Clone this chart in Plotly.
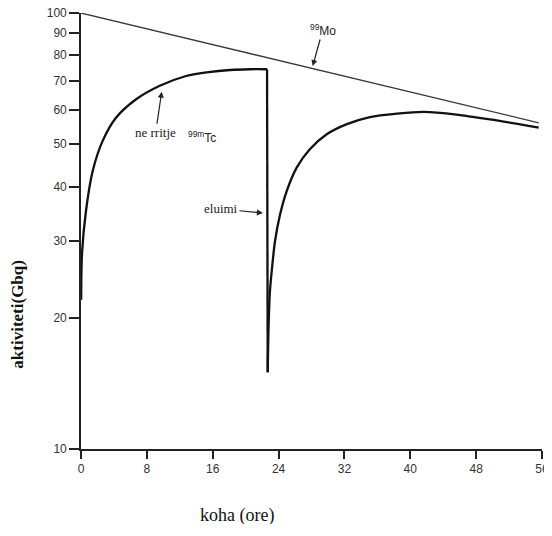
import plotly.graph_objects as go

# Mo-99 parent activity (GBq) vs time (h)
mo_t = [0.0, 55.6]
mo_v = [100.0, 56.0]

# Tc-99m build-up before elution
rise1_t = [0.02, 0.12, 0.6, 1.42, 2.63, 4.25, 6.7, 9.5, 12.76, 15.5, 18.1, 20.5, 22.6]
rise1_v = [22.0, 28.0, 35.1, 43.4, 50.9, 57.5, 63.4, 68.0, 71.7, 73.2, 74.0, 74.3, 74.3]

# Tc-99m regrowth after elution
rise2_t = [22.68, 22.8, 22.95, 23.17, 23.57, 24.18, 25.0, 26.2, 27.8, 29.85, 32.3, 35.1, 38.4, 41.6, 45.6, 49.7, 55.6]
rise2_v = [15.0, 19.5, 23.0, 25.6, 30.0, 34.5, 39.1, 44.2, 48.7, 52.7, 55.6, 57.7, 58.75, 59.3, 58.5, 57.0, 54.6]

x_ticks = [0, 8, 16, 24, 32, 40, 48, 56]
y_ticks = [10, 20, 30, 40, 50, 60, 70, 80, 90, 100]

fig = go.Figure()
fig.add_trace(go.Scatter(x=mo_t, y=mo_v, mode="lines",
                         line=dict(color="#3a3a3a", width=1.3), showlegend=False, cliponaxis=False))
fig.add_trace(go.Scatter(x=rise1_t, y=rise1_v, mode="lines", line_shape="spline",
                         line=dict(color="#111", width=2.3, smoothing=0.8), showlegend=False, cliponaxis=False))
fig.add_trace(go.Scatter(x=[rise1_t[-1], rise2_t[0]], y=[rise1_v[-1], rise2_v[0]], mode="lines",
                         line=dict(color="#111", width=2.3), showlegend=False, cliponaxis=False))
fig.add_trace(go.Scatter(x=rise2_t, y=rise2_v, mode="lines", line_shape="spline",
                         line=dict(color="#111", width=2.3, smoothing=0.8), showlegend=False, cliponaxis=False))

sans = "Liberation Sans, Arial, sans-serif"
serif = "Liberation Serif, Times New Roman, serif"

ann = [
    # 99Mo label with arrow to the Mo line
    dict(x=28.15, y=1.8784, text="<sup>99</sup>Mo", showarrow=True, ax=10, ay=-36,
         arrowhead=2, arrowsize=1, arrowwidth=1.2, arrowcolor="#222", standoff=0,
         font=dict(family=sans, size=12, color="#222")),
    # ne rritje label with arrow
    dict(x=9.8, y=1.8195, text="ne rritje", showarrow=True, ax=-6, ay=41,
         arrowhead=2, arrowsize=1, arrowwidth=1.2, arrowcolor="#222", standoff=0,
         font=dict(family=serif, size=13, color="#222")),
    dict(x=14.7, y=1.715, text="<sup>99m</sup>Tc", showarrow=False,
         font=dict(family=sans, size=12, color="#222")),
    # eluimi label with arrow
    dict(x=22.1, y=1.5413, text="eluimi", showarrow=True, ax=-42, ay=-4,
         arrowhead=2, arrowsize=1, arrowwidth=1.2, arrowcolor="#222", standoff=0,
         font=dict(family=serif, size=13, color="#222")),
    # axis titles
    dict(xref="paper", yref="paper", x=-0.137, y=0.31, xanchor="center", yanchor="middle",
         text="<b>aktiviteti(Gbq)</b>",
         textangle=-90, showarrow=False, font=dict(family=serif, size=17, color="#111")),
    dict(xref="paper", yref="paper", x=0.338, y=-0.152, xanchor="center", yanchor="middle",
         text="koha (ore)",
         showarrow=False, font=dict(family=serif, size=18, color="#111")),
]

# page body adds an 8px offset; keep the figure inside the 552x536 window
fig.update_layout(
    width=544, height=516,
    margin=dict(l=73, r=10, t=5, b=75, autoexpand=False),
    paper_bgcolor="white", plot_bgcolor="white",
    annotations=ann,
    xaxis=dict(range=[0, 56], tickvals=x_ticks, ticktext=[str(v) for v in x_ticks],
               automargin=False, ticklabeloverflow="allow",
               showgrid=False, zeroline=False, showline=True, linecolor="#222", linewidth=1.6,
               ticks="outside", ticklen=8, tickwidth=1.6, tickcolor="#222",
               tickfont=dict(family=sans, size=12, color="#333")),
    yaxis=dict(type="log", range=[1, 2], tickvals=y_ticks, ticktext=[str(v) for v in y_ticks],
               automargin=False, ticklabeloverflow="allow",
               showgrid=False, zeroline=False, showline=True, linecolor="#222", linewidth=1.6,
               ticks="outside", ticklen=10, tickwidth=1.6, tickcolor="#222",
               tickfont=dict(family=sans, size=12, color="#333")),
)

fig.write_html("out.html")
